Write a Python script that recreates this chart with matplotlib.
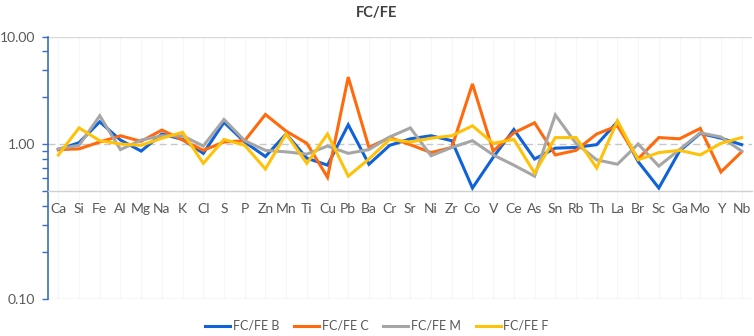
import matplotlib
matplotlib.use("Agg")
import matplotlib.pyplot as plt
from matplotlib.ticker import FixedLocator, NullFormatter

# Data
elements = ["Ca", "Si", "Fe", "Al", "Mg", "Na", "K", "Cl", "S", "P", "Zn", "Mn",
            "Ti", "Cu", "Pb", "Ba", "Cr", "Sr", "Ni", "Zr", "Co", "V", "Ce", "As",
            "Sn", "Rb", "Th", "La", "Br", "Sc", "Ga", "Mo", "Y", "Nb"]

fc_fe_b = [0.92, 1.02, 1.39, 1.06, 0.90, 1.16, 1.07, 0.87, 1.38, 1.03, 0.83, 1.16,
           0.81, 0.73, 1.33, 0.74, 0.98, 1.08, 1.13, 1.05, 0.52, 0.82, 1.24, 0.80,
           0.94, 0.95, 0.99, 1.39, 0.77, 0.52, 0.90, 1.17, 1.09, 0.99]
fc_fe_c = [0.92, 0.93, 1.03, 1.13, 1.04, 1.23, 1.06, 0.91, 1.03, 1.05, 1.55, 1.21,
           1.01, 0.61, 2.70, 0.95, 1.10, 0.99, 0.88, 0.95, 2.44, 0.90, 1.18, 1.37,
           0.85, 0.91, 1.16, 1.31, 0.80, 1.10, 1.08, 1.26, 0.66, 0.89]
fc_fe_m = [0.93, 0.98, 1.52, 0.92, 1.06, 1.13, 1.13, 0.97, 1.44, 1.05, 0.91, 0.89,
           0.86, 0.97, 0.87, 0.92, 1.11, 1.27, 0.84, 0.95, 1.05, 0.85, 0.73, 0.62,
           1.54, 1.01, 0.79, 0.74, 1.00, 0.72, 0.92, 1.18, 1.11, 0.90]
fc_fe_f = [0.85, 1.27, 1.05, 1.00, 0.98, 1.09, 1.19, 0.75, 1.07, 0.98, 0.69, 1.16,
           0.75, 1.16, 0.62, 0.80, 1.07, 1.03, 1.09, 1.13, 1.31, 1.01, 1.07, 0.65,
           1.10, 1.10, 0.70, 1.41, 0.79, 0.88, 0.91, 0.85, 1.01, 1.10]

series = [("FC/FE B", fc_fe_b, "#0f62d8"),
          ("FC/FE C", fc_fe_c, "#ff6a0d"),
          ("FC/FE M", fc_fe_m, "#a6a6a6"),
          ("FC/FE F", fc_fe_f, "#ffc20a")]

y_top = 4.9
text_color = "#595959"
axis_blue = "#3b6cc0"

plt.rcParams["font.family"] = ["Lato", "DejaVu Sans"]

fig = plt.figure(figsize=(7.54, 3.36), dpi=100)
ax = fig.add_axes([48 / 754, 37 / 336, 704 / 754, 262 / 336])

x = list(range(len(elements)))

# faint vertical grid
for xi in x:
    ax.axvline(xi, color="#f6f6f6", lw=0.8, zorder=0)

ax.axhline(y_top, color="#d9d9d9", lw=1.0, zorder=1)
ax.axhline(0.1, color="#d9d9d9", lw=1.0, zorder=1)
ax.axhline(1.0, color="#c8c8c8", lw=1.0, ls=(0, (5, 3)), zorder=1)

for name, vals, col in series:
    ax.plot(x, vals, color=col, lw=2.2, label=name, zorder=3,
            solid_joinstyle="miter")

ax.set_yscale("log")
ax.set_ylim(0.1, y_top)
ax.set_xlim(-0.5, len(elements) - 0.5)

ax.set_yticks([0.1, 1.0, y_top])
ax.set_yticklabels(["0.10", "1.00", "10.00"])
ax.yaxis.set_minor_locator(FixedLocator([0.2, 0.3, 0.4, 0.5, 0.6, 0.7, 0.8, 0.9,
                                         2, 3, 4]))
ax.yaxis.set_minor_formatter(NullFormatter())
ax.tick_params(axis="y", which="both", length=4, width=1, color=axis_blue,
               labelsize=10, labelcolor=text_color, pad=5)

ax.set_xticks(x)
ax.set_xticklabels(elements)
ax.tick_params(axis="x", length=0, pad=9, labelsize=10, labelcolor=text_color)

for s in ["top", "right"]:
    ax.spines[s].set_visible(False)
ax.spines["left"].set_color(axis_blue)
ax.spines["left"].set_linewidth(1.2)
ax.spines["bottom"].set_position(("data", 0.5))
ax.spines["bottom"].set_color("#d0d0d0")
ax.spines["bottom"].set_linewidth(1.0)

fig.text(0.5, 1 - 13 / 336, "FC/FE", ha="center", va="center",
         fontsize=10.5, fontweight="bold", color="#404040")

fig.legend(loc="center", bbox_to_anchor=(0.5, 1 - 326 / 336), ncol=4,
           frameon=False, fontsize=9, handlelength=2.0, columnspacing=1.2,
           handletextpad=0.2, labelcolor=text_color)

fig.savefig("out.png", dpi=100)
